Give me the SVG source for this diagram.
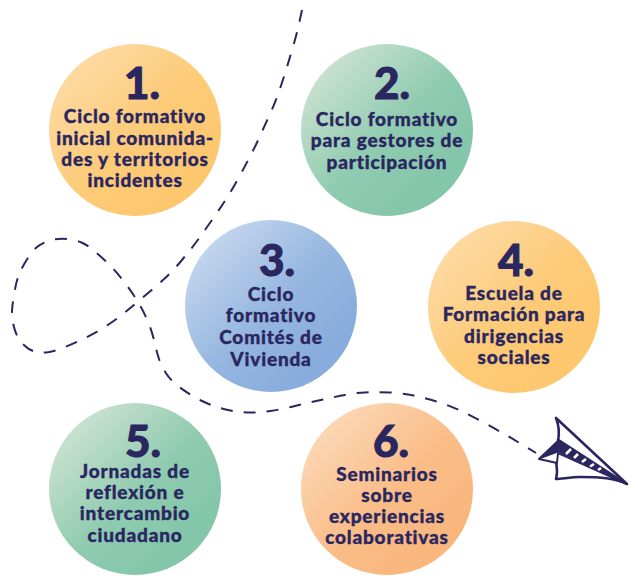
<svg xmlns="http://www.w3.org/2000/svg" width="638" height="585" viewBox="0 0 638 585">
<style>
.t{font-family:"Lato","Open Sans",sans-serif;font-weight:900;fill:#2a2660;text-anchor:middle}
.l{font-size:19px;letter-spacing:.8px;stroke:#2a2660;stroke-width:.35}
.n{font-size:44px;stroke:#2a2660;stroke-width:1}
.d{fill:none;stroke:#2a2660;stroke-width:2;stroke-dasharray:12 11}
.p{fill:none;stroke:#2a2660;stroke-width:2.6;stroke-linejoin:round;stroke-linecap:round}
</style>
<defs>
<linearGradient id="y" x1="0.1" y1="0.1" x2="0.8" y2="0.8"><stop offset="0" stop-color="#fddba6"/><stop offset="0.6" stop-color="#fdcb78"/><stop offset="1" stop-color="#fdc76e"/></linearGradient>
<linearGradient id="g" x1="0.1" y1="0.1" x2="0.8" y2="0.8"><stop offset="0" stop-color="#cfe3d3"/><stop offset="0.6" stop-color="#8fcbb0"/><stop offset="1" stop-color="#84c6aa"/></linearGradient>
<linearGradient id="b" x1="0.1" y1="0.1" x2="0.8" y2="0.8"><stop offset="0" stop-color="#c7d8ee"/><stop offset="0.6" stop-color="#95b6e0"/><stop offset="1" stop-color="#88acdc"/></linearGradient>
<linearGradient id="o" x1="0.1" y1="0.1" x2="0.8" y2="0.8"><stop offset="0" stop-color="#fcd9b9"/><stop offset="0.6" stop-color="#fabd88"/><stop offset="1" stop-color="#f9b67d"/></linearGradient>
</defs>
<g id="connectors">
<path class="d" d="M302 10 L299.5 21.5 Q297 33 293.5 45 Q290 57 286.5 68.5 Q283 80 279 91.5 Q275 103 270 114 Q265 125 260 136 Q255 147 249.5 157.5 Q244 168 238 179 Q232 190 225.5 200 Q219 210 212 220 Q205 230 198.5 239 Q192 248 182 260 Q172 272 163 280 Q154 288 144.5 296 Q135 304 126 311.5 Q117 319 107 325.5 Q97 332 86 337.5 Q75 343 64 347.5 Q53 352 46.5 352.5 Q40 353 34.5 351.5 Q29 350 24.5 345.5 Q20 341 17.5 336.5 Q15 332 13.5 325 Q12 318 12 312.5 Q12 307 14 295 Q16 283 18 277 Q20 271 26 261 Q32 251 37 247 Q42 243 50 240.5 Q58 238 67 239 Q76 240 81.5 242.5 Q87 245 92 249 Q97 253 105.5 261 Q114 269 121.5 278.5 Q129 288 135.5 298 Q142 308 147 319.5 Q152 331 154.5 342 Q157 353 159 359 Q161 365 165.5 372.5 Q170 380 180 387.5 Q190 395 201 400.5 Q212 406 223.5 409 Q235 412 246.5 412.5 Q258 413 270.5 411 Q283 409 295 406 Q307 403 318.5 400.5 Q330 398 341.5 395.5 Q353 393 365 392.5 Q377 392 389.5 392.5 Q402 393 413.5 395.5 Q425 398 436.5 401.5 Q448 405 459 410 Q470 415 481 421 Q492 427 502.5 433 Q513 439 536 453"/>
</g>
<g id="node-1"><circle cx="135" cy="130" r="86" fill="url(#y)"/>
<text class="t n" x="142" y="99">1.</text>
<text class="t l" x="135" y="123">Ciclo formativo</text><text class="t l" x="135" y="145">inicial comunida-</text><text class="t l" x="135" y="166">des y territorios</text><text class="t l" x="135" y="187">incidentes</text></g>
<g id="node-2"><circle cx="387" cy="130" r="86" fill="url(#g)"/>
<text class="t n" x="392" y="99">2.</text>
<text class="t l" x="387" y="126">Ciclo formativo</text><text class="t l" x="387" y="147">para gestores de</text><text class="t l" x="387" y="169">participación</text></g>
<g id="node-3"><circle cx="271" cy="306" r="86" fill="url(#b)"/>
<text class="t n" x="277" y="276">3.</text>
<text class="t l" x="271" y="301">Ciclo</text><text class="t l" x="271" y="322">formativo</text><text class="t l" x="271" y="344">Comités de</text><text class="t l" x="271" y="366">Vivienda</text></g>
<g id="node-4"><circle cx="514" cy="307" r="86" fill="url(#y)"/>
<text class="t n" x="516" y="276">4.</text>
<text class="t l" x="514" y="300">Escuela de</text><text class="t l" x="514" y="321">Formación para</text><text class="t l" x="514" y="343">dirigencias</text><text class="t l" x="514" y="364">sociales</text></g>
<g id="node-5"><circle cx="135" cy="489" r="86" fill="url(#g)"/>
<text class="t n" x="143" y="457">5.</text>
<text class="t l" x="135" y="478">Jornadas de</text><text class="t l" x="135" y="499">reflexión e</text><text class="t l" x="135" y="520">intercambio</text><text class="t l" x="135" y="542">ciudadano</text></g>
<g id="node-6"><circle cx="387" cy="489" r="86" fill="url(#o)"/>
<text class="t n" x="391" y="457">6.</text>
<text class="t l" x="387" y="481">Seminarios</text><text class="t l" x="387" y="502">sobre</text><text class="t l" x="387" y="523">experiencias</text><text class="t l" x="387" y="544">colaborativas</text></g>
<g id="plane">
<path class="p" d="M556 418C560 428 559 436 558 441M556 418L627 484C615 478 600 477 580 477C570 477 562 479 556 479C558 472 557 468 556 462"/>
<path d="M539 459L559 440L627 484L558 453L557 463Z" fill="#fff" stroke="#2a2660" stroke-width="2" stroke-linejoin="round"/>
<path d="M539 459L559 440L558 452Z" fill="#2a2660" stroke="#2a2660" stroke-linejoin="round"/>
<path d="M559 440L627 484L558 452Z" fill="#2a2660"/>
<path d="M566 454L571 449M574 458L578 454M582 462L586 459M590 466.5L594 464M598 470L601 468" stroke="#fff" stroke-width="2.6" fill="none"/>
</g>
</svg>
